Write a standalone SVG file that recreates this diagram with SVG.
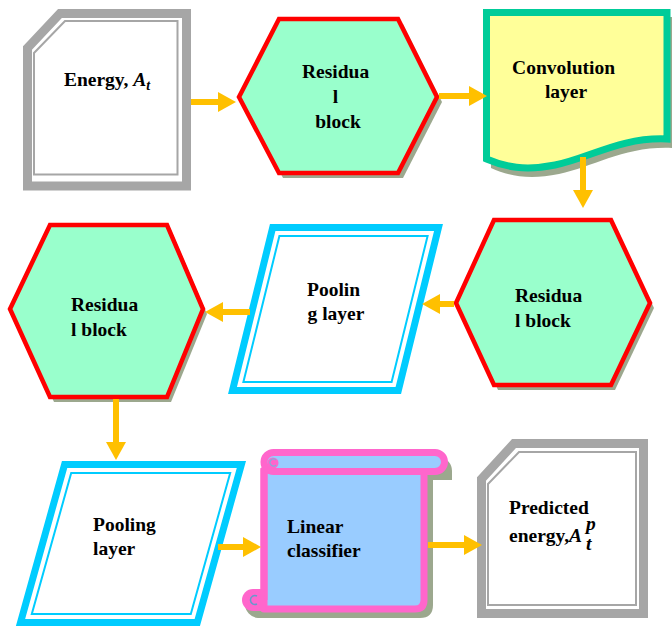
<svg xmlns="http://www.w3.org/2000/svg" width="672" height="627" viewBox="0 0 672 627">
  <style>
    .lbl { font-weight: bold; font-size: 19.5px; fill: #000; }
    .mi { font-style: italic; }
    .shadow { fill: #9CA88E; stroke: none; }
    .hex { fill: #99FFCC; stroke: #FF0000; stroke-width: 4.5; stroke-linejoin: miter; }
    .io-outer { fill: #FFFFFF; stroke: #A6A6A6; stroke-width: 9; stroke-linejoin: miter; }
    .io-inner { fill: none; stroke: #A6A6A6; stroke-width: 2; }
    .para-outer { fill: #FFFFFF; stroke: #00CCFF; stroke-width: 7; stroke-linejoin: miter; }
    .para-inner { fill: none; stroke: #00CCFF; stroke-width: 2; }
    .doc { fill: #FFFF99; stroke: #00CC99; stroke-width: 7; stroke-linejoin: miter; }
    .scroll { fill: #99CCFF; stroke: #FF66CC; stroke-width: 7; stroke-linejoin: round; }
    .conn line { stroke: #FFC000; stroke-width: 6; marker-end: url(#head); }
  </style>
  <defs>
    <marker id="head" viewBox="0 0 18 20" refX="2" refY="10" markerWidth="18" markerHeight="20" markerUnits="userSpaceOnUse" orient="auto">
      <path d="M0,0 L18,10 L0,20 Z" fill="#FFC000"/>
    </marker>
  </defs>

  <g font-family="'Liberation Serif', 'DejaVu Serif', serif">
  <!-- Input: energy -->
  <g id="energy">
    <path class="io-outer" d="M27.5,48 L60,13.5 H186.5 V186 H27.5 Z"/>
    <path class="io-inner" d="M34,53 L65,21 H177.5 V174.5 H34 Z"/>
    <text class="lbl" x="107" y="86" text-anchor="middle">Energy, <tspan class="mi">A</tspan><tspan class="mi" font-size="14" dy="4">t</tspan></text>
  </g>

  <!-- Residual block 1 -->
  <g id="residual1">
    <polygon class="shadow" points="283,24 403,24 442,102 403,178 283,178 243,102"/>
    <polygon class="hex" points="279,19 398,19 437,97 398,173 279,173 239,97"/>
    <text class="lbl" text-anchor="middle">
      <tspan x="338" y="78">Residua</tspan>
      <tspan x="338" y="103">l</tspan>
      <tspan x="338" y="128">block</tspan>
    </text>
  </g>

  <!-- Convolution layer -->
  <g id="convolution">
    <path class="shadow" d="M491,17 H672 V148 C624,146 594,167 559,174 C529,180 509,176 491,168 Z"/>
    <path class="doc" d="M486.5,12.5 H667 V139 C620,137 590,158 555,165 C525,171 505,167 486.5,159 Z"/>
    <text class="lbl" text-anchor="middle">
      <tspan x="566" y="74">Convolution</tspan>
      <tspan x="566" y="98">layer</tspan>
    </text>
  </g>

  <!-- Residual block 2 -->
  <g id="residual2">
    <polygon class="shadow" points="498,225 615,225 654,308 615,390 498,390 460,308"/>
    <polygon class="hex" points="494,220 611,220 650,303 611,385 494,385 456,303"/>
    <text class="lbl">
      <tspan x="515" y="302">Residua</tspan>
      <tspan x="515" y="327">l block</tspan>
    </text>
  </g>

  <!-- Pooling layer 1 -->
  <g id="pooling1">
    <path class="para-outer" d="M272.7,227.5 H438.5 L398.3,390.5 H232.5 Z"/>
    <path class="para-inner" d="M279.4,236 H427.6 L391.6,382 H243.4 Z"/>
    <text class="lbl" text-anchor="middle">
      <tspan x="336" y="296">Poolin</tspan>
      <tspan x="336" y="320">g layer</tspan>
    </text>
  </g>

  <!-- Residual block 3 -->
  <g id="residual3">
    <polygon class="shadow" points="54,230 171,230 207,314 171,402 54,402 14,314"/>
    <polygon class="hex" points="50,225 167,225 203,309 167,397 50,397 10,309"/>
    <text class="lbl">
      <tspan x="71" y="311">Residua</tspan>
      <tspan x="71" y="336">l block</tspan>
    </text>
  </g>

  <!-- Pooling layer 2 -->
  <g id="pooling2">
    <path class="para-outer" d="M64.6,464.5 H241.4 L197.3,622.5 H20.5 Z"/>
    <path class="para-inner" d="M71.2,473 H230.2 L190.8,614 H31.8 Z"/>
    <text class="lbl">
      <tspan x="93" y="531">Pooling</tspan>
      <tspan x="93" y="555">layer</tspan>
    </text>
  </g>

  <!-- Linear classifier (scroll) -->
  <g id="linear">
    <path class="shadow" d="M268,457 H440 A14,14 0 0 1 452,471 V480 H433 V605 Q433,618 420,618 H258 A14,14 0 0 1 245,604 A14,14 0 0 1 258,591 H268 Z"/>
    <path class="scroll" d="M264,470 H424 V600 Q424,609 415,609 H264 Z"/>
    <rect class="scroll" x="264" y="452.5" width="180.5" height="19" rx="9.5"/>
    <path class="scroll" d="M264,468 V600"/>
    <circle cx="273" cy="463" r="5.5" fill="#FF66CC"/>
    <path d="M276,460 A3.5,3.5 0 1 0 276,465" fill="none" stroke="#88AADD" stroke-width="1.2"/>
    <path d="M264,589 H253 A11,11 0 0 0 253,611 H266 Z" fill="#FF66CC"/>
    <path d="M257,596 A4.5,4.5 0 1 0 257,604" fill="none" stroke="#6699CC" stroke-width="1.5"/>
    <text class="lbl">
      <tspan x="287" y="533">Linear</tspan>
      <tspan x="287" y="557">classifier</tspan>
    </text>
  </g>

  <!-- Output: predicted energy -->
  <g id="predicted">
    <path class="io-outer" d="M481.5,479 L514,443.5 H643.5 V613.5 H481.5 Z"/>
    <path class="io-inner" d="M488,484 L519,452 H636 V605 H488 Z"/>
    <text class="lbl">
      <tspan x="509" y="514">Predicted</tspan>
      <tspan x="509" y="542">energy,<tspan class="mi">A</tspan></tspan>
    </text>
    <text class="lbl mi" x="586" y="530" font-size="12">p</text>
    <text class="lbl mi" x="586" y="550" font-size="12">t</text>
  </g>
  </g>

  <!-- Connectors -->
  <g id="connectors" class="conn">
    <line x1="191" y1="102" x2="220" y2="102"/>
    <line x1="439" y1="96" x2="471" y2="96"/>
    <line x1="583" y1="157" x2="583" y2="192"/>
    <line x1="454" y1="304" x2="438" y2="304"/>
    <line x1="250" y1="312" x2="221" y2="312"/>
    <line x1="116" y1="399" x2="116" y2="444"/>
    <line x1="218" y1="547" x2="245" y2="547"/>
    <line x1="428" y1="545" x2="466" y2="545"/>
  </g>
</svg>
